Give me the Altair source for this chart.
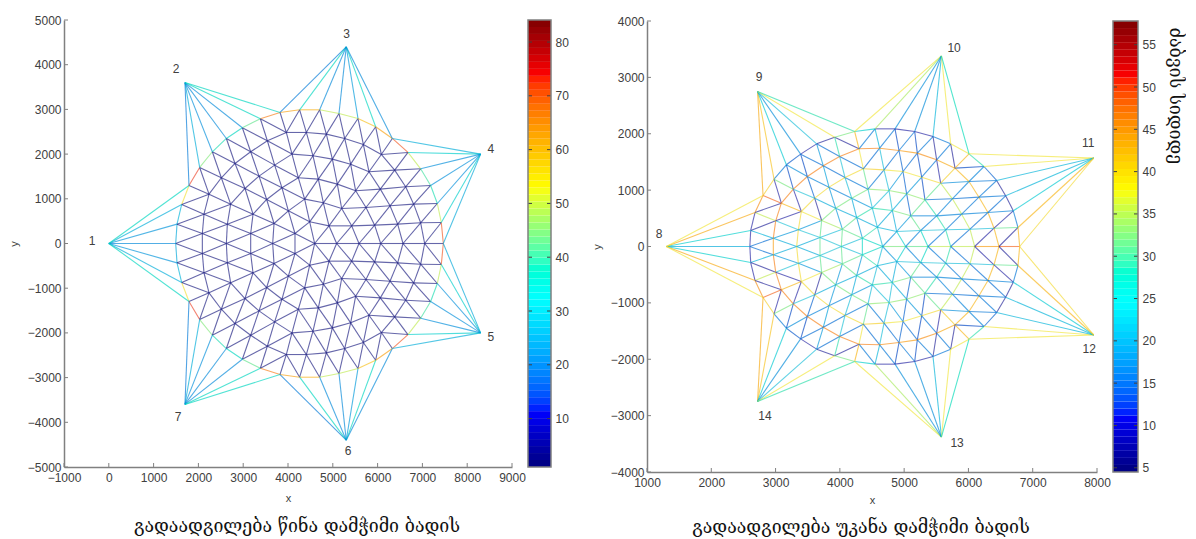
import altair as alt
import pandas as pd

# ---------- front-stretched mesh (left panel): lattice rows, (x, y)
L_R0 = [(1493, 0)]
L_R1 = [(1523, 433), (2088, 224), (2624, 0)]
L_R2 = [(1627, 873), (2125, 656), (2646, 433), (3167, 224), (3658, 0)]
L_R3 = [(1790, 1298), (2237, 1104), (2720, 880), (3219, 656), (3688, 448), (4156, 224), (4595, 0),
        (5086, 0), (5585, 0), (6068, 0), (6567, 0), (7050, 0), (7467, 0)]
L_R4 = [(2028, 1701), (2512, 1470), (3040, 1231), (3524, 985), (4008, 731), (4484, 485), (4915, 395),
        (5421, 395), (5934, 410), (6448, 433), (6961, 463), (7422, 470)]
L_R5 = [(2311, 2052), (2817, 1790), (3353, 1507), (3866, 1246), (4372, 992), (4789, 910), (5198, 783),
        (5741, 806), (6277, 843), (6805, 880), (7333, 895)]
L_R6 = [(2624, 2350), (3167, 2052), (3702, 1753), (4231, 1470), (4677, 1440), (5101, 1328), (5510, 1179),
        (6061, 1216), (6626, 1268), (7184, 1298)]
L_R7 = [(2981, 2589), (3539, 2298), (4089, 2000), (4558, 1962), (4990, 1887), (5399, 1775), (5808, 1604),
        (6381, 1641), (6961, 1671)]
L_R8 = [(3383, 2790), (3963, 2484), (4409, 2484), (4856, 2447), (5265, 2350), (5682, 2216), (6083, 1992),
        (6678, 2037)]
L_R9 = [(3822, 2932), (4260, 2991), (4707, 2991), (5138, 2909), (5562, 2798), (5957, 2611), (6329, 2350)]
L_ROWS = [L_R0, L_R1, L_R2, L_R3, L_R4, L_R5, L_R6, L_R7, L_R8, L_R9]
L_TIPS = [(0, 0), (1700, 3600), (5300, 4400), (8300, 2000)]
L_BOUNDARY = [28, 30, 54, 72, 46, 40, 38, 44, 66, 62, 60, 50, 50, 58, 62, 70, 50, 42, 40, 50, 70]
L_TIP_VALS = [[23, 25, 29, 38], [21, 29, 24, 23, 23, 38, 38], [21, 38, 23, 23, 26, 38, 23], [29, 36, 24, 24, 24, 36, 28]]
L_LABELS = [("1", -375, 50), ("2", 1500, 3904), ("3", 5310, 4690), ("4", 8530, 2110),
            ("5", 8530, -2090), ("6", 5340, -4640), ("7", 1545, -3880)]

# ---------- back-stretched mesh (right panel)
R_R0 = [(2600, 0)]
R_R1 = [(2613, 284), (2965, 148), (3328, 0)]
R_R2 = [(2680, 603), (3002, 455), (3354, 296), (3691, 160), (4023, 0)]
R_R3 = [(2805, 905), (3090, 769), (3401, 621), (3717, 461), (4039, 307), (4350, 148), (4666, 0),
        (5024, 0), (5371, 0), (5724, 0), (6097, 0), (6475, 0), (6797, 0)]
R_R4 = [(2976, 1194), (3276, 1017), (3608, 857), (3935, 680), (4262, 514), (4583, 343), (4884, 266),
        (5257, 284), (5646, 296), (6024, 307), (6398, 325), (6771, 337)]
R_R5 = [(3168, 1449), (3494, 1242), (3831, 1053), (4184, 857), (4505, 680), (4816, 639), (5102, 544),
        (5506, 544), (5895, 574), (6304, 603), (6698, 633)]
R_R6 = [(3390, 1638), (3743, 1431), (4080, 1224), (4438, 1017), (4765, 993), (5039, 934), (5324, 828),
        (5750, 846), (6164, 875), (6579, 899)]
R_R7 = [(3639, 1821), (3997, 1597), (4365, 1378), (4687, 1360), (4982, 1330), (5273, 1230), (5568, 1123),
        (6009, 1153), (6439, 1171)]
R_R8 = [(3919, 1939), (4298, 1733), (4619, 1744), (4920, 1703), (5205, 1656), (5506, 1537), (5791, 1390),
        (6242, 1419)]
R_R9 = [(4230, 2040), (4547, 2087), (4858, 2087), (5164, 2040), (5449, 1951), (5724, 1821), (6009, 1644)]
R_ROWS = [R_R0, R_R1, R_R2, R_R3, R_R4, R_R5, R_R6, R_R7, R_R8, R_R9]
R_TIPS = [(1300, 0), (2720, 2750), (5580, 3380), (7950, 1570)]
R_BOUNDARY = [10, 10, 45, 40, 17, 14, 10, 9, 33, 27, 10, 10, 10, 17, 38, 30, 15, 9, 9, 17, 42]
R_TIP_VALS = [[22, 27, 43, 38], [43, 41, 26, 19, 24, 38, 30], [38, 35, 19, 19, 23, 38, 29], [38, 38, 23, 23, 26, 42, 39]]
R_LABELS = [("8", 1187, 222), ("9", 2743, 3007), ("10", 5777, 3521), ("11", 7862, 1836),
            ("12", 7878, -1818), ("13", 5824, -3486), ("14", 2836, -3007)]
# interior edge values of the right mesh, per lattice family (0 = boundary edge)
R_ALONG = {1: [23, 22], 2: [36, 25, 25, 25], 3: [48, 42, 38, 35, 32, 28, 33, 32, 36, 36, 44, 48],
           4: [33, 25, 22, 22, 22, 23, 24, 25, 24, 24, 32], 5: [19, 18, 18, 20, 30, 33, 18, 18, 18, 18],
           6: [16, 16, 17, 34, 34, 34, 16, 16, 17], 7: [16, 16, 40, 38, 38, 39, 19, 17],
           8: [9, 46, 45, 44, 45, 43, 13]}
R_DIAG = {0: [16], 1: [9, 20, 22], 2: [9, 10, 20, 24, 24],
          3: [0, 46, 39, 33, 32, 30, 20, 18, 17, 16, 10, 9], 4: [0, 46, 39, 33, 30, 22, 20, 18, 17, 16, 10],
          5: [0, 46, 39, 33, 24, 22, 32, 18, 17, 16], 6: [0, 46, 39, 17, 20, 20, 32, 18, 17],
          7: [0, 46, 16, 16, 16, 17, 40, 18], 8: [0, 17, 17, 17, 17, 17, 42]}
R_STEEP = {1: [0, 46, 39], 2: [0, 46, 39, 32, 32], 3: [10, 10, 9, 20, 20, 24, 27, 28, 30, 36, 42, 0],
           4: [13, 15, 20, 22, 24, 22, 32, 30, 36, 42, 0], 5: [13, 21, 24, 24, 24, 15, 30, 36, 42, 0],
           6: [20, 25, 32, 24, 15, 13, 36, 42, 0], 7: [30, 38, 24, 15, 13, 10, 42, 0],
           8: [42, 23, 13, 13, 9, 9, 0]}
R_VERT = [44, 32, 28]
L_INTERIOR = 4

OFFS = [3, 2, 1, 0, 0, 0, 0, 0, 0, 0]
BPATH = [(0, 3), (1, 2), (2, 1), (3, 0), (4, 0), (5, 0), (6, 0), (7, 0), (8, 0),
         (9, 0), (9, 1), (9, 2), (9, 3), (9, 4), (9, 5), (9, 6),
         (8, 7), (7, 8), (6, 9), (5, 10), (4, 11), (3, 12)]
TIP_LINKS = [BPATH[0:4], BPATH[3:10], BPATH[9:16], BPATH[15:22]]
VERT_NODES = [(1, 3), (2, 4), (3, 5)]

JET = ["#00007f", "#0000ff", "#00ffff", "#ffff00", "#ff0000", "#7f0000"]
JET_LINES = ["#1a1a6f", "#2a2ab0", "#30c0d8", "#f0e840", "#e83030", "#701010"]


def jet_scale(lo, hi, colors):
    s = hi - lo
    return alt.Scale(domain=[lo, lo + s / 8, lo + 3 * s / 8, lo + 5 * s / 8, lo + 7 * s / 8, hi], range=colors)


def mesh_table(rows, tips, bvals, tipvals, along=None, diag=None, steep=None, vert=None, interior=9):
    node = {}
    for n, r in enumerate(rows):
        for i, p in enumerate(r):
            node[(n, i + OFFS[n])] = p
    bmap = {frozenset(pair): v for pair, v in zip(zip(BPATH, BPATH[1:]), bvals)}
    out = []

    def seg(a, b, v):
        out.append(dict(x=a[0], y=a[1], x2=b[0], y2=b[1], v=v))
        if not (a[1] == 0 and b[1] == 0):
            out.append(dict(x=a[0], y=-a[1], x2=b[0], y2=-b[1], v=v))

    def add(ka, kb, fam, n):
        if ka not in node or kb not in node:
            return
        key = frozenset((ka, kb))
        if key in bmap:
            v = bmap[key]
        elif fam is not None:
            v = fam[n][ka[1] - OFFS[ka[0]]]
        else:
            v = interior
        seg(node[ka], node[kb], v)

    for n in range(10):
        for k in range(13):
            if n >= 1:
                add((n, k), (n, k + 1), along if n < 9 else None, n)
            if n < 9:
                add((n, k), (n + 1, k), diag, n)
                add((n + 1, k), (n, k + 1), steep, n)
    for i, kn in enumerate(VERT_NODES):
        p = node[kn]
        out.append(dict(x=p[0], y=p[1], x2=p[0], y2=-p[1], v=vert[i] if vert else interior))
    for tip, links, vals in zip(tips, TIP_LINKS, tipvals):
        for kn, v in zip(links, vals):
            seg(tip, node[kn], v)
    return pd.DataFrame(out)


FONT = "Liberation Sans"
GREY = "#808080"
TXT = "#404040"
TITLE_FONT = "DejaVu Serif"


def panel(df, labels, xdom, ydom, xticks, yticks, cs, w, h, yrange, title, dx, offset, ttl_pad, ytp):
    xs = alt.Scale(domain=xdom, nice=False, zero=False)
    ykw = dict(domain=ydom, nice=False, zero=False)
    if yrange:
        ykw["range"] = yrange
    ys = alt.Scale(**ykw)
    xa = alt.Axis(values=xticks, format="d", grid=False, ticks=False, title="x",
                  domainColor=GREY, domainWidth=1.5, labelColor=TXT, labelFontSize=12,
                  labelFont=FONT, labelPadding=5, titleFont=FONT, titleFontSize=11,
                  titleFontWeight="normal", titleColor=TXT, titlePadding=ttl_pad,
                  labelFlush=False, labelOverlap=False)
    ya = alt.Axis(values=yticks, format="d", grid=False, ticks=False, title="y",
                  domainColor=GREY, domainWidth=1.5, labelColor=TXT, labelFontSize=12,
                  labelFont=FONT, labelPadding=3, titleFont=FONT, titleFontSize=11,
                  titleFontWeight="normal", titleColor=TXT, titlePadding=ytp,
                  labelFlush=False, labelOverlap=False)
    edges = alt.Chart(df).mark_rule(strokeWidth=1.1, opacity=0.68).encode(
        x=alt.X("x:Q", scale=xs, axis=xa), y=alt.Y("y:Q", scale=ys, axis=ya),
        x2="x2:Q", y2="y2:Q",
        color=alt.Color("v:Q", scale=cs, legend=None),
    )
    ldf = pd.DataFrame(labels, columns=["t", "x", "y"])
    text = alt.Chart(ldf).mark_text(font=FONT, fontSize=12, color=TXT).encode(
        x=alt.X("x:Q", scale=xs, axis=xa), y=alt.Y("y:Q", scale=ys, axis=ya), text="t:N")
    xt = alt.Chart(pd.DataFrame({"t": xticks})).mark_rule(color=GREY).encode(
        x=alt.X("t:Q", scale=xs, axis=xa), y=alt.value(h), y2=alt.value(h - 4))
    yt = alt.Chart(pd.DataFrame({"t": yticks})).mark_rule(color=GREY).encode(
        y=alt.Y("t:Q", scale=ys, axis=ya), x=alt.value(0), x2=alt.value(4))
    return alt.layer(edges, text, xt, yt).properties(
        width=w, height=h,
        title=alt.TitleParams(title, orient="bottom", font=TITLE_FONT, fontSize=17.8, fontWeight="normal",
                              color="#111111", dx=dx, offset=offset, anchor="middle"))


def colorbar(lo, hi, ticks, cs, w, h, yrange, ctitle=None):
    edges = [lo + (hi - lo) * i / 64 for i in range(65)]
    bands = pd.DataFrame({"a": edges[:-1], "b": edges[1:]})
    bands["m"] = (bands.a + bands.b) / 2
    ykw = dict(domain=[lo, hi], nice=False, zero=False)
    if yrange:
        ykw["range"] = yrange
    ys = alt.Scale(**ykw)
    axkw = dict(values=ticks, orient="right", grid=False, ticks=False, domain=False, labelColor=TXT,
                labelFontSize=12, labelFont=FONT, labelPadding=4, labelOverlap=False, labelFlush=False)
    if ctitle:
        axkw.update(title=ctitle, titleFont=TITLE_FONT, titleFontSize=17.8, titleFontWeight="normal",
                    titleColor="#111111", titleAngle=90, titleAnchor="start", titleAlign="left",
                    titleX=36, titleY=7, titleBaseline="middle")
    else:
        axkw.update(title=None)
    ya = alt.Axis(**axkw)
    rect = alt.Chart(bands).mark_rect().encode(
        y=alt.Y("a:Q", scale=ys, axis=ya), y2="b:Q",
        x=alt.value(0), x2=alt.value(w),
        color=alt.Color("m:Q", scale=cs, legend=None))
    tdf = pd.DataFrame({"t": ticks})
    t1 = alt.Chart(tdf).mark_rule(color=TXT).encode(
        y=alt.Y("t:Q", scale=ys, axis=ya), x=alt.value(0), x2=alt.value(4))
    t2 = alt.Chart(tdf).mark_rule(color=TXT).encode(
        y=alt.Y("t:Q", scale=ys, axis=ya), x=alt.value(w - 4), x2=alt.value(w))
    box = alt.Chart(pd.DataFrame({"a": [lo], "b": [hi]})).mark_rect(fill=None, stroke=GREY, strokeWidth=1.5).encode(
        y=alt.Y("a:Q", scale=ys, axis=ya), y2="b:Q", x=alt.value(0), x2=alt.value(w))
    return alt.layer(rect, t1, t2, box).properties(width=w, height=h)


L_LO, L_HI = 1, 84.1
R_LO, R_HI = 4.5, 57.8

left_df = mesh_table(L_ROWS, L_TIPS, L_BOUNDARY, L_TIP_VALS, interior=L_INTERIOR)
right_df = mesh_table(R_ROWS, R_TIPS, R_BOUNDARY, R_TIP_VALS, R_ALONG, R_DIAG, R_STEEP, R_VERT)

p1 = panel(left_df, L_LABELS, [-1000, 9000], [-5000, 5000], list(range(-1000, 9001, 1000)),
           list(range(-5000, 5001, 1000)), jet_scale(L_LO, L_HI, JET_LINES), 448, 447, None,
           "გადაადგილება წინა დამჭიმი ბადის", 9, 15, 9, 8)
c1 = colorbar(L_LO, L_HI, list(range(10, 81, 10)), jet_scale(L_LO, L_HI, JET), 23, 447, None)
p2 = panel(right_df, R_LABELS, [1000, 8000], [-4000, 4000], list(range(1000, 8001, 1000)),
           list(range(-4000, 4001, 1000)), jet_scale(R_LO, R_HI, JET_LINES), 450, 452, [452, 1],
           "გადაადგილება უკანა დამჭიმი ბადის", -11, 14, 6, 8)
c2 = colorbar(R_LO, R_HI, list(range(5, 56, 5)), jet_scale(R_LO, R_HI, JET), 25, 452, [452, 1], "ძაბვის სიდიდე")
gap = alt.Chart(pd.DataFrame({"a": [0]})).mark_point(opacity=0).encode(x=alt.value(0)).properties(width=64, height=10)

chart = alt.hconcat(p1, c1, gap, p2, c2, spacing=16, bounds="flush").resolve_scale(
    color="independent", x="independent", y="independent"
).properties(padding={"left": 0, "top": 6, "right": 3, "bottom": 0}).configure_view(stroke=None)

chart.save("out.html", embed_options={"renderer": "svg", "actions": False})
